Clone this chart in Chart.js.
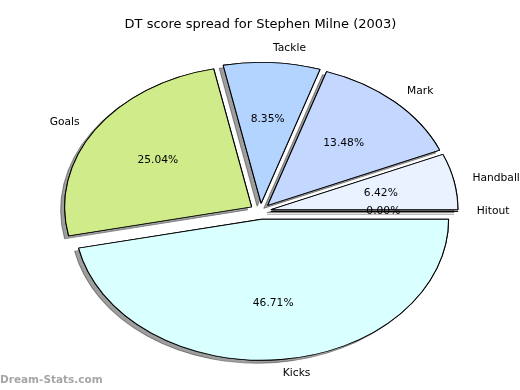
<!DOCTYPE html>
<html>
<head>
<meta charset="utf-8">
<script src="https://cdn.jsdelivr.net/npm/chart.js@4"></script>
<style>
  html, body { margin: 0; padding: 0; background: #fff; }
  #wrap { width: 520px; height: 390px; }
</style>
</head>
<body>
<div id="wrap"><canvas id="pie" width="520" height="390"></canvas></div>
<script>
// values in matplotlib order (counter-clockwise from east)
const labels = ['Hitout', 'Handballs', 'Mark', 'Tackle', 'Goals', 'Kicks'];
const percents = [0.0, 6.42, 13.48, 8.35, 25.04, 46.71];
const colors = ['#e8f0ff', '#ebf2ff', '#c4d7ff', '#b3d4ff', '#d0eb8a', '#d9ffff'];
const title = 'DT score spread for Stephen Milne (2003)';

// chart.js goes clockwise, so feed it reversed
const revLabels = labels.slice().reverse();
const revValues = percents.slice().reverse();
const revColors = colors.slice().reverse();

const radius = 141;     // vertical radius
const stretch = 187 / 141; // pie is an ellipse in the original
const explode = 8;
const font = '"DejaVu Sans", sans-serif';

function geom(el) {
  const mid = (el.startAngle + el.endAngle) / 2;
  return { mid, cx: el.x, cy: el.y, cos: Math.cos(mid), sin: Math.sin(mid) };
}

function drawSlices(ctx, meta) {
  meta.data.forEach((el) => {
    const g = geom(el);
    ctx.save();
    ctx.translate(g.cx, g.cy);
    ctx.scale(stretch, 1);
    ctx.translate(g.cos * explode, g.sin * explode);
    if (el.circumference === 0) {
      // zero slice: matplotlib still draws its edge
      ctx.beginPath();
      ctx.moveTo(0, 0);
      ctx.lineTo(Math.cos(el.startAngle) * el.outerRadius, Math.sin(el.startAngle) * el.outerRadius);
      ctx.lineWidth = 1;
      ctx.strokeStyle = '#000';
      ctx.stroke();
    } else {
      ctx.translate(-g.cx, -g.cy);
      el.draw(ctx);
    }
    ctx.restore();
  });
}

const ellipsePie = {
  id: 'ellipsePie',
  beforeDatasetsDraw(chart) {
    const ctx = chart.ctx;
    const meta = chart.getDatasetMeta(0);
    // shadow pass
    ctx.save();
    ctx.shadowColor = 'rgba(0,0,0,0.38)';
    ctx.shadowOffsetX = -4;
    ctx.shadowOffsetY = 3;
    ctx.shadowBlur = 0;
    drawSlices(ctx, meta);
    ctx.restore();
    // clean pass on top
    drawSlices(ctx, meta);
    return false;
  },
  afterDraw(chart) {
    const ctx = chart.ctx;
    const meta = chart.getDatasetMeta(0);
    ctx.save();
    ctx.font = '10.7px ' + font;
    ctx.fillStyle = '#000';
    ctx.textBaseline = 'middle';
    meta.data.forEach((el, i) => {
      const g = geom(el);
      const r = el.outerRadius;
      let d = explode + 1.1 * r;
      ctx.textAlign = g.cos >= 0 ? 'left' : 'right';
      ctx.fillText(revLabels[i], g.cx + g.cos * d * stretch, g.cy + g.sin * d);
      d = explode + 0.6 * r;
      ctx.textAlign = 'center';
      ctx.fillText(revValues[i].toFixed(2) + '%', g.cx + g.cos * d * stretch, g.cy + g.sin * d);
    });
    // watermark
    ctx.font = 'bold 10.5px ' + font;
    ctx.fillStyle = '#a6a6a6';
    ctx.textAlign = 'left';
    ctx.fillText('Dream-Stats.com', 0, 380);
    ctx.restore();
  }
};

new Chart(document.getElementById('pie'), {
  type: 'pie',
  data: {
    labels: revLabels,
    datasets: [{
      data: revValues,
      backgroundColor: revColors,
      borderColor: '#000',
      borderWidth: 0.8,
      radius: radius,
      offset: 0,
      hoverOffset: 0
    }]
  },
  options: {
    responsive: false,
    animation: false,
    events: [],
    rotation: 90,
    layout: { padding: { top: 0, bottom: 38, left: 1, right: 0 } },
    plugins: {
      legend: { display: false },
      tooltip: { enabled: false },
      title: {
        display: true,
        text: title,
        color: '#000',
        font: { family: font, size: 13, weight: 'normal' },
        padding: { top: 17, bottom: 38 }
      }
    }
  },
  plugins: [ellipsePie]
});
</script>
</body>
</html>
